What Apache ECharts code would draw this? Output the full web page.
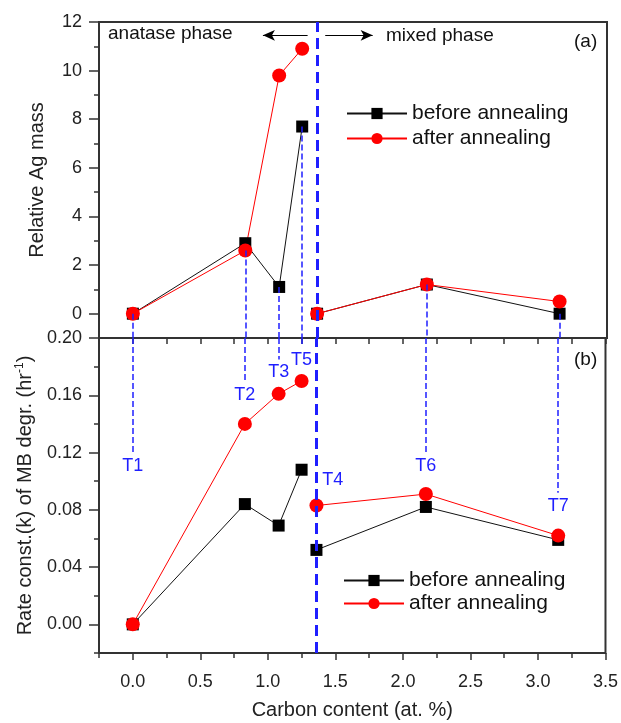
<!DOCTYPE html>
<html>
<head>
<meta charset="utf-8">
<script src="https://cdn.jsdelivr.net/npm/echarts@6/dist/echarts.min.js"></script>
<style>
    html, body { margin: 0; padding: 0; background: #fff; }
    #chart { width: 621px; height: 723px; }
</style>
</head>
<body>
<div id="chart"></div>
<script>
// samples ordered by carbon content; the first four are anatase, the rest mixed phase
const sampleNames = ['T1', 'T2', 'T3', 'T5', 'T4', 'T6', 'T7']
const carbon = [0, 0.83, 1.08, 1.25, 1.36, 2.17, 3.15]
const agBefore = [0, 2.9, 1.1, 7.7, 0, 1.2, 0]
const agAfter = [0, 2.6, 9.8, 10.9, 0, 1.2, 0.5]
const rateBefore = [0, 0.084, 0.069, 0.108, 0.052, 0.082, 0.059]
const rateAfter = [0, 0.14, 0.161, 0.17, 0.083, 0.091, 0.062]
// where each blue guide line stops in panel (b)
const guideEnd = [0.12, 0.169, 0.185, 0.194, null, 0.12, 0.092]
const phaseBoundary = 1.36

const xMajor = [0, 0.5, 1, 1.5, 2, 2.5, 3, 3.5]
const xMinor = [-0.25, 0.25, 0.75, 1.25, 1.75, 2.25, 2.75, 3.25]
const agMajor = [0, 2, 4, 6, 8, 10, 12]
const agMinor = [-1, 1, 3, 5, 7, 9, 11]
const rateMajor = [0, 0.04, 0.08, 0.12, 0.16, 0.2]
const rateMinor = [-0.02, 0.02, 0.06, 0.1, 0.14, 0.18]

const FONT = 'Liberation Sans, Arial, sans-serif'
const BLUE = '#1f1fff'
const anataseCount = 4

// split into two runs so the line breaks at the phase boundary
function toSeries(values) {
    const out = []
    carbon.forEach((x, i) => {
        if (i === anataseCount) out.push([x, '-'])
        out.push([x, values[i]])
    })
    return out
}

function guidesTop() {
    return carbon.map((x, i) => {
        if (guideEnd[i] === null) return null
        const y = Math.min(agBefore[i], agAfter[i])
        return [{ coord: [x, y] }, { coord: [x, -1] }]
    }).filter(Boolean)
}

function guidesBottom() {
    return carbon.map((x, i) => {
        if (guideEnd[i] === null) return null
        return [{ coord: [x, 0.2], name: sampleNames[i] }, { coord: [x, guideEnd[i]] }]
    }).filter(Boolean)
}

const tickLabel = { fontSize: 18, color: '#222', fontFamily: FONT }
const tickLine = { color: '#333', width: 1.5 }

function valueAxis(extra) {
    return Object.assign({
        type: 'value',
        splitLine: { show: false },
        axisLine: { show: false, onZero: false }
    }, extra)
}

const chart = echarts.init(document.getElementById('chart'))

const option = {
    animation: false,
    backgroundColor: '#fff',
    textStyle: { fontFamily: FONT },
    grid: [
        { left: 99, right: 14, top: 22, height: 316, show: true, borderColor: '#333', borderWidth: 2 },
        { left: 99, right: 14, top: 338, height: 315, show: true, borderColor: '#333', borderWidth: 2 }
    ],
    xAxis: [
        valueAxis({ gridIndex: 0, min: -0.25, max: 3.5, axisTick: { show: false }, axisLabel: { show: false } }),
        valueAxis({
            gridIndex: 1, min: -0.25, max: 3.5, position: 'bottom',
            axisTick: { show: true, length: 7, lineStyle: tickLine, customValues: xMajor },
            axisLabel: Object.assign({ margin: 20, customValues: xMajor, formatter: v => v.toFixed(1) }, tickLabel),
            name: 'Carbon content (at. %)', nameLocation: 'middle', nameGap: 47,
            nameTextStyle: { fontSize: 20, color: '#222', fontFamily: FONT }
        }),
        valueAxis({
            gridIndex: 1, min: -0.25, max: 3.5, position: 'bottom',
            axisTick: { show: true, length: 5, lineStyle: tickLine, customValues: xMinor },
            axisLabel: { show: false }
        }),
        valueAxis({
            gridIndex: 1, min: -0.25, max: 3.5, position: 'top',
            axisTick: { show: true, inside: true, length: 6, lineStyle: tickLine, customValues: xMajor.concat(xMinor) },
            axisLabel: { show: false }
        })
    ],
    yAxis: [
        valueAxis({
            gridIndex: 0, min: -1, max: 12, position: 'left',
            axisTick: { show: true, length: 10, lineStyle: tickLine, customValues: agMajor },
            axisLabel: Object.assign({ margin: 17, customValues: agMajor }, tickLabel),
            name: 'Relative Ag mass', nameLocation: 'middle', nameGap: 52,
            nameTextStyle: { fontSize: 20, color: '#222', fontFamily: FONT }
        }),
        valueAxis({
            gridIndex: 0, min: -1, max: 12, position: 'left',
            axisTick: { show: true, length: 5, lineStyle: tickLine, customValues: agMinor },
            axisLabel: { show: false }
        }),
        valueAxis({
            gridIndex: 1, min: -0.02, max: 0.2, position: 'left',
            axisTick: { show: true, length: 10, lineStyle: tickLine, customValues: rateMajor },
            axisLabel: Object.assign({ margin: 17, customValues: rateMajor, formatter: v => v.toFixed(2) }, tickLabel),
            name: 'Rate const.(k) of MB degr. (hr{sup|-1})', nameLocation: 'middle', nameGap: 63,
            nameTextStyle: {
                fontSize: 20, color: '#222', fontFamily: FONT,
                rich: { sup: { fontSize: 12, verticalAlign: 'top', padding: [0, 0, 10, 0], fontFamily: FONT, color: '#222' } }
            }
        }),
        valueAxis({
            gridIndex: 1, min: -0.02, max: 0.2, position: 'left',
            axisTick: { show: true, length: 5, lineStyle: tickLine, customValues: rateMinor },
            axisLabel: { show: false }
        })
    ],
    legend: [
        {
            left: 341, top: 98, orient: 'vertical', itemWidth: 60, itemHeight: 14, itemGap: 4,
            data: ['before annealing', 'after annealing'],
            textStyle: { fontSize: 21, color: '#111', fontFamily: FONT }
        },
        {
            left: 338, top: 565, orient: 'vertical', itemWidth: 60, itemHeight: 14, itemGap: 2,
            data: ['before annealing', 'after annealing'],
            textStyle: { fontSize: 21, color: '#111', fontFamily: FONT }
        }
    ],
    series: [
        {
            name: 'before annealing', type: 'line', xAxisIndex: 0, yAxisIndex: 0,
            data: toSeries(agBefore), symbol: 'rect', symbolSize: 12,
            lineStyle: { color: '#111', width: 1 }, itemStyle: { color: '#000' },
            markLine: {
                silent: true, symbol: 'none', label: { show: false },
                lineStyle: { color: BLUE, width: 1.5, type: [6, 3] },
                data: guidesTop()
            }
        },
        {
            name: 'after annealing', type: 'line', xAxisIndex: 0, yAxisIndex: 0,
            data: toSeries(agAfter), symbol: 'circle', symbolSize: 14,
            lineStyle: { color: '#ff0000', width: 1 }, itemStyle: { color: '#ff0000' },
            markLine: {
                silent: true, symbol: 'none', label: { show: false },
                lineStyle: { color: BLUE, width: 3, type: [11, 6] },
                data: [{ xAxis: phaseBoundary }]
            }
        },
        {
            // phase arrows in panel (a)
            type: 'line', xAxisIndex: 0, yAxisIndex: 0, data: [],
            markLine: {
                silent: true, symbol: ['none', 'arrow'], symbolSize: [8, 12], label: { show: false },
                lineStyle: { color: '#000', width: 1.2, type: 'solid' },
                data: [
                    [{ coord: [1.29, 11.45] }, { coord: [0.96, 11.45] }],
                    [{ coord: [1.42, 11.45] }, { coord: [1.77, 11.45] }]
                ]
            }
        },
        {
            name: 'before annealing', type: 'line', xAxisIndex: 1, yAxisIndex: 2,
            data: toSeries(rateBefore), symbol: 'rect', symbolSize: 12,
            lineStyle: { color: '#111', width: 1 }, itemStyle: { color: '#000' },
            markLine: {
                silent: true, symbol: 'none',
                label: { show: true, position: 'end', formatter: '{b}', color: BLUE, fontSize: 18, fontFamily: FONT, distance: 4 },
                lineStyle: { color: BLUE, width: 1.5, type: [6, 3] },
                data: guidesBottom()
            }
        },
        {
            name: 'after annealing', type: 'line', xAxisIndex: 1, yAxisIndex: 2,
            data: toSeries(rateAfter), symbol: 'circle', symbolSize: 14,
            lineStyle: { color: '#ff0000', width: 1 }, itemStyle: { color: '#ff0000' },
            markLine: {
                silent: true, symbol: 'none', label: { show: false },
                lineStyle: { color: BLUE, width: 3, type: [11, 6] },
                data: [{ xAxis: phaseBoundary }]
            },
            markPoint: {
                silent: true, symbol: 'circle', symbolSize: 0,
                label: { show: true, formatter: '{b}', color: BLUE, fontSize: 18, fontFamily: FONT },
                data: [{ name: sampleNames[4], coord: [1.48, 0.101] }]
            }
        }
    ],
    graphic: [
        { type: 'text', left: 108, top: 24, style: { text: 'anatase phase', fontSize: 19, fill: '#111', fontFamily: FONT } },
        { type: 'text', left: 386, top: 26, style: { text: 'mixed phase', fontSize: 19, fill: '#111', fontFamily: FONT } },
        { type: 'text', left: 574, top: 32, style: { text: '(a)', fontSize: 19, fill: '#111', fontFamily: FONT } },
        { type: 'text', left: 574, top: 350, style: { text: '(b)', fontSize: 19, fill: '#111', fontFamily: FONT } }
    ]
}

chart.setOption(option)
</script>
</body>
</html>
